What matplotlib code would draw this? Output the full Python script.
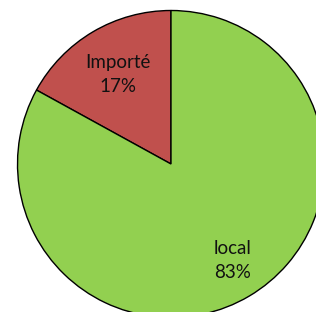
import numpy as np
import matplotlib.pyplot as plt

# data
labels = ["Importé", "local"]
values = [17, 83]
colors = ["#C0504D", "#92D050"]
label_dist = [0.68, 0.745]

fig = plt.figure(figsize=(3.16, 3.12), dpi=100)
ax = fig.add_axes([0, 0, 1, 1])

wedges, texts = ax.pie(values, colors=colors, startangle=90, counterclock=True,
                       center=(171, 148), radius=153.5, frame=True,
                       wedgeprops=dict(edgecolor="black", linewidth=1.0))

# labels inside the wedges, Excel style
for w, lab, v, d in zip(wedges, labels, values, label_dist):
    ang = np.deg2rad((w.theta1 + w.theta2) / 2 + (2 if v > 50 else 0))
    x = w.center[0] + d * w.r * np.cos(ang)
    y = w.center[1] + d * w.r * np.sin(ang)
    ax.text(x, y, f"{lab}\n{v}%", ha="center", va="center", fontsize=13.5,
            family="Lato", color="#111111", linespacing=1.5)

ax.set_xlim(0, 316)
ax.set_ylim(0, 312)
ax.set_aspect("equal")
ax.axis("off")

fig.savefig("out.png", dpi=100)
